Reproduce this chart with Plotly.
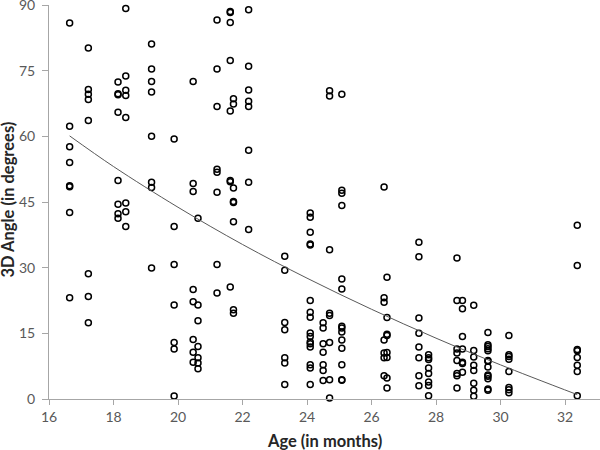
import plotly.graph_objects as go

# Age columns (months) and the 3D angles observed at each age (degrees)
col_age = [16.64, 17.22, 18.14, 18.38, 19.18, 19.88, 20.47, 20.62, 21.21, 21.62,
           21.72, 22.19, 23.31, 24.10, 24.50, 24.70, 25.08, 26.39, 26.48, 27.47,
           27.77, 28.65, 28.82, 29.17, 29.61, 30.26, 32.38]
col_angle = [
    [85.9, 62.3, 57.6, 54.0, 48.7, 48.5, 42.6, 23.1],
    [80.2, 70.7, 69.6, 68.4, 63.6, 28.6, 23.4, 17.4],
    [72.4, 69.7, 69.5, 65.5, 49.9, 44.5, 42.3, 41.3],
    [89.2, 73.8, 70.5, 69.3, 64.3, 44.8, 42.8, 39.4],
    [81.1, 75.4, 72.5, 70.1, 60.0, 49.5, 48.3, 29.9],
    [59.4, 39.4, 30.7, 21.5, 12.9, 11.4, 0.7],
    [72.5, 49.2, 47.4, 25.0, 22.2, 13.6, 10.7, 8.4],
    [41.3, 21.5, 17.9, 12.0, 9.4, 8.2, 6.9],
    [86.6, 75.4, 66.8, 52.5, 51.8, 47.2, 30.7, 24.2],
    [88.5, 88.3, 86.0, 77.3, 65.8, 49.9, 49.6, 25.6],
    [68.6, 67.4, 48.2, 45.1, 44.9, 40.5, 20.4, 19.6],
    [88.9, 76.0, 70.6, 68.0, 66.8, 56.8, 49.5, 38.7],
    [32.6, 29.4, 17.5, 15.8, 9.4, 8.2, 3.3],
    [42.5, 41.5, 38.1, 35.4, 35.2, 22.5, 19.8, 18.7, 15.1, 14.3, 13.0, 12.6, 11.9, 7.8, 7.1, 3.3],
    [17.4, 16.2, 12.6, 10.7, 7.8, 6.5, 4.2],
    [70.4, 69.2, 34.1, 19.6, 19.1, 12.9, 4.4, 0.2],
    [69.6, 47.7, 47.0, 44.2, 27.4, 25.1, 16.6, 16.2, 15.3, 13.5, 11.6, 7.8, 4.4, 4.3],
    [48.4, 23.1, 22.1, 13.5, 10.5, 9.4, 5.3],
    [27.8, 18.6, 14.8, 14.5, 10.6, 9.5, 4.8, 2.5],
    [35.8, 32.5, 18.5, 15.0, 11.9, 9.4, 5.3, 3.0],
    [10.1, 9.4, 9.0, 7.1, 5.8, 3.9, 3.1, 0.75],
    [32.2, 22.5, 11.4, 10.5, 8.8, 5.8, 5.3, 2.5],
    [22.5, 20.6, 14.3, 11.4, 8.4, 8.1, 6.1],
    [21.4, 11.1, 9.6, 7.7, 6.5, 3.6, 2.0, 0.6],
    [15.2, 12.4, 12.0, 11.5, 11.0, 8.8, 8.6, 7.3, 5.5, 5.2, 4.6, 2.3, 2.0],
    [14.5, 10.1, 9.7, 9.1, 6.3, 2.6, 2.1, 1.4],
    [39.7, 30.5, 11.3, 11.0, 9.5, 7.7, 6.3, 0.75],
]

# Trend line
trend_age = [16.64, 18, 20, 22, 24, 26, 28, 30, 32.38]
trend_angle = [60.1, 53.1, 43.8, 35.3, 27.6, 20.5, 13.9, 7.8, 1.0]

x_ticks = [16, 18, 20, 22, 24, 26, 28, 30, 32, 34]
y_ticks = [0, 15, 30, 45, 60, 75, 90]
x_title = "Age (in months)"
y_title = "3D Angle (in degrees)"

ages = []
angles = []
for a, vals in zip(col_age, col_angle):
    for v in vals:
        ages.append(a)
        angles.append(v)

fig = go.Figure()
fig.add_trace(go.Scatter(
    x=ages, y=angles, mode="markers",
    marker=dict(symbol="circle-open", size=6, color="black", line=dict(width=1.5)),
    showlegend=False, cliponaxis=False,
))
fig.add_trace(go.Scatter(
    x=trend_age, y=trend_angle, mode="lines",
    line=dict(color="#595959", width=1, shape="spline"),
    showlegend=False,
))

font_family = "Lato, 'Open Sans', sans-serif"
fig.update_layout(
    width=600, height=450,
    margin=dict(l=49, r=0, t=5, b=51),
    paper_bgcolor="white", plot_bgcolor="white",
    font=dict(family=font_family, size=14, color="#595959"),
    xaxis=dict(
        range=[16, 33.085], tickvals=x_ticks, showgrid=False, zeroline=False,
        showline=True, linecolor="#a6a6a6", linewidth=1, automargin=False,
        ticks="outside", ticklen=5, tickcolor="#a6a6a6",
        tickfont=dict(size=14, color="#595959"), ticklabelstandoff=0,
    ),
    yaxis=dict(
        range=[0, 90], tickvals=y_ticks, showgrid=False, zeroline=False,
        showline=True, linecolor="#a6a6a6", linewidth=1, automargin=False,
        ticks="outside", ticklen=6, tickcolor="#a6a6a6",
        tickfont=dict(size=14, color="#595959"), ticklabelstandoff=4,
        ticklabeloverflow="allow",
    ),
    annotations=[
        dict(text="<b>" + x_title + "</b>", xref="paper", yref="paper",
             x=0.5, y=-0.107, xanchor="center", yanchor="middle", showarrow=False,
             font=dict(size=16.5, color="#262626")),
        dict(text="<b>" + y_title + "</b>", xref="paper", yref="paper",
             x=-0.0735, y=0.505, xanchor="center", yanchor="middle", showarrow=False,
             textangle=-90, font=dict(size=16.5, color="#262626")),
    ],
)

fig.write_html(
    "out.html",
    config={"displayModeBar": False},
    post_script="document.body.style.margin='0';document.body.style.overflow='hidden';",
)
